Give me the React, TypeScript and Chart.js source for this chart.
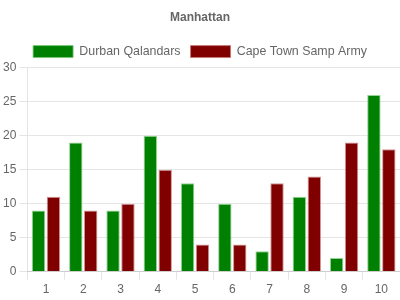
import React, { useEffect, useRef } from "react";
import { Chart, registerables } from "chart.js";

Chart.register(...registerables);

const categories = ["1", "2", "3", "4", "5", "6", "7", "8", "9", "10"];
const durban = [9, 19, 9, 20, 13, 10, 3, 11, 2, 26];
const capeTown = [11, 9, 10, 15, 4, 4, 13, 14, 19, 18];

export default function App() {
  const ref = useRef<HTMLCanvasElement | null>(null);
  useEffect(() => {
    document.body.style.margin = "0";
    Chart.defaults.font.family = "'Liberation Sans', Arial, Helvetica, sans-serif";
    Chart.defaults.color = "#666";
    const chart = new Chart(ref.current!, {
      type: "bar",
      data: {
        labels: categories,
        datasets: [
          {
            label: "Durban Qalandars",
            data: durban,
            backgroundColor: "#008000",
            borderColor: "rgba(120,200,120,0.8)",
            borderWidth: 1,
          },
          {
            label: "Cape Town Samp Army",
            data: capeTown,
            backgroundColor: "#800000",
            borderColor: "rgba(200,120,120,0.8)",
            borderWidth: 1,
          },
        ],
      },
      options: {
        animation: false,
        responsive: false,
        plugins: {
          title: {
            display: true,
            text: "Manhattan",
            font: { size: 12, weight: "bold" },
            color: "#666",
            padding: { top: 10, bottom: 11 },
          },
          legend: {
            labels: { boxWidth: 40, boxHeight: 12, padding: 10, font: { size: 12.4, lineHeight: 1.2 } },
          },
          tooltip: { enabled: false },
        },
        scales: {
          x: {
            grid: { offset: true, drawOnChartArea: false, color: "rgba(0,0,0,0.1)" },
            ticks: { font: { size: 12 } },
          },
          y: {
            min: 0,
            max: 30,
            ticks: { stepSize: 5, font: { size: 12 } },
            grid: { color: "rgba(0,0,0,0.1)" },
          },
        },
      },
    });
    return () => chart.destroy();
  }, []);
  return <canvas ref={ref} width={400} height={300} style={{ display: "block" }} />;
}
